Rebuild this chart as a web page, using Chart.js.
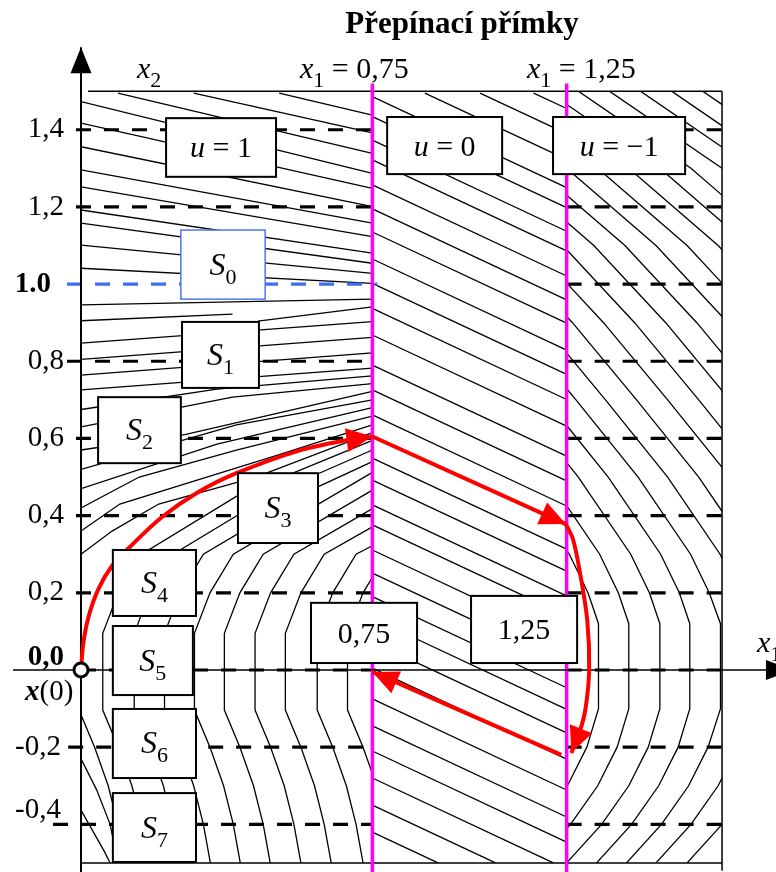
<!DOCTYPE html>
<html>
<head>
<meta charset="utf-8">
<script src="https://cdn.jsdelivr.net/npm/chart.js@4/dist/chart.umd.min.js"></script>
<style>
  html, body { margin: 0; padding: 0; background: #fff; }
</style>
</head>
<body>
<canvas id="phase" width="776" height="872"></canvas>
<script>
const SERIF = '"Liberation Serif", "Times New Roman", serif';

// axis ticks
const yTicks = [1.4, 1.2, 1.0, 0.8, 0.6, 0.4, 0.2, 0, -0.2, -0.4];
const yTickText = ['1,4', '1,2', '1.0', '0,8', '0,6', '0,4', '0,2', '0,0', '-0,2', '-0,4'];

// switching lines x1 = 0.75 and x1 = 1.25
const switchX = [0.75, 1.25];

// dashed guide levels and where each one starts on the left
const dashLevels = [1.4, 1.2, 1.0, 0.8, 0.6, 0.4, 0.2, 0, -0.2, -0.4];
const dashFrom = [-0.013, -0.013, -0.036, -0.036, -0.013, -0.013, -0.013, 0, -0.033, -0.072];

// field lines, u = 1 (left strip)
const fieldU1 = [
  [[0.51, 1.495], [0.75, 1.438]],
  [[0.29, 1.495], [0.75, 1.392]],
  [[0.095, 1.495], [0.75, 1.339]],
  [[0, 1.473], [0.75, 1.287]],
  [[0, 1.417], [0.75, 1.248]],
  [[0, 1.356], [0.75, 1.201]],
  [[0, 1.296], [0.75, 1.158]],
  [[0, 1.252], [0.75, 1.123]],
  [[0, 1.192], [0.75, 1.080]],
  [[0, 1.158], [0.75, 1.054]],
  [[0, 1.101], [0.75, 1.028]],
  [[0, 1.041], [0.75, 1.002]],
  [[0, 0.946], [0.75, 0.961]],
  [[0, 0.905], [0.39, 0.922]],
  [[0.455, 0.904], [0.75, 0.941]],
  [[0, 0.847], [0.75, 0.903]],
  [[0, 0.805], [0.75, 0.862]],
  [[0, 0.764], [0.75, 0.822]],
  [[0, 0.726], [0.75, 0.782]],
  [[0, 0.675], [0.35, 0.728], [0.75, 0.762]],
  [[0, 0.63], [0.39, 0.707], [0.75, 0.742]],
  [[0, 0.57], [0.267, 0.61], [0.75, 0.722]],
  [[0, 0.52], [0.4, 0.635], [0.75, 0.70]],
  [[0, 0.47], [0.35, 0.585], [0.75, 0.68]],
  [[0, 0.42], [0.15, 0.5], [0.4, 0.57], [0.75, 0.658]],
  [[0, 0.36], [0.1, 0.43], [0.5, 0.555], [0.75, 0.635]],
  [[0, 0.3], [0.08, 0.36], [0.2, 0.43], [0.45, 0.5], [0.75, 0.615]],
  [[0.174, -0.5], [0.156, -0.4], [0.131, -0.3], [0.096, -0.2], [0.056, -0.104], [0.056, 0.095], [0.096, 0.2], [0.156, 0.3], [0.4, 0.45], [0.75, 0.595]],
  [[0.255, -0.5], [0.237, -0.4], [0.212, -0.3], [0.177, -0.2], [0.137, -0.104], [0.137, 0.095], [0.177, 0.2], [0.237, 0.3], [0.5, 0.46], [0.75, 0.57]],
  [[0.333, -0.5], [0.315, -0.4], [0.29, -0.3], [0.255, -0.2], [0.215, -0.104], [0.215, 0.095], [0.255, 0.2], [0.315, 0.3], [0.6, 0.47], [0.75, 0.54]],
  [[0.41, -0.5], [0.392, -0.4], [0.367, -0.3], [0.332, -0.2], [0.292, -0.104], [0.292, 0.095], [0.332, 0.2], [0.392, 0.3], [0.75, 0.512]],
  [[0.487, -0.5], [0.469, -0.4], [0.444, -0.3], [0.409, -0.2], [0.369, -0.104], [0.369, 0.095], [0.409, 0.2], [0.469, 0.3], [0.75, 0.466]],
  [[0.566, -0.5], [0.548, -0.4], [0.523, -0.3], [0.488, -0.2], [0.448, -0.104], [0.448, 0.095], [0.488, 0.2], [0.548, 0.3], [0.75, 0.418]],
  [[0.644, -0.5], [0.626, -0.4], [0.601, -0.3], [0.566, -0.2], [0.526, -0.104], [0.526, 0.095], [0.566, 0.2], [0.626, 0.3], [0.75, 0.371]],
  [[0.726, -0.5], [0.708, -0.4], [0.683, -0.3], [0.648, -0.2], [0.608, -0.104], [0.608, 0.095], [0.648, 0.2], [0.708, 0.3], [0.75, 0.322]],
  [[0.804, -0.5], [0.786, -0.4], [0.761, -0.3], [0.726, -0.2], [0.686, -0.104], [0.686, 0.095], [0.726, 0.2], [0.786, 0.3]],
  [[-0.005, -0.104], [0.035, -0.2], [0.07, -0.3], [0.095, -0.4], [0.113, -0.5]],
  [[0, -0.23], [0.04, -0.31], [0.075, -0.4], [0.095, -0.5]],
  [[0, -0.363], [0.06, -0.47], [0.075, -0.5]]
];

// field lines, u = 0 (middle strip)
const fieldU0 = [
  [[1.165, 1.495], [1.25, 1.455]],
  [[1.027, 1.495], [1.25, 1.39]],
  [[0.885, 1.495], [1.25, 1.323]],
  [[0.75, 1.486], [1.25, 1.25]],
  [[0.75, 1.434], [1.25, 1.198]],
  [[0.75, 1.373], [1.25, 1.137]],
  [[0.75, 1.322], [1.25, 1.086]],
  [[0.75, 1.257], [1.25, 1.021]],
  [[0.75, 1.195], [1.25, 0.959]],
  [[0.75, 1.135], [1.25, 0.899]],
  [[0.75, 1.065], [1.25, 0.829]],
  [[0.75, 1.002], [1.25, 0.766]],
  [[0.75, 0.937], [1.25, 0.701]],
  [[0.75, 0.868], [1.25, 0.632]],
  [[0.75, 0.79], [1.25, 0.554]],
  [[0.75, 0.726], [1.25, 0.49]],
  [[0.75, 0.661], [1.25, 0.425]],
  [[0.75, 0.549], [1.25, 0.313]],
  [[0.75, 0.492], [1.25, 0.256]],
  [[0.75, 0.428], [1.25, 0.192]],
  [[0.75, 0.376], [1.25, 0.14]],
  [[0.75, 0.311], [1.25, 0.075]],
  [[0.75, 0.251], [1.25, 0.015]],
  [[0.75, 0.19], [1.25, -0.046]],
  [[0.75, 0.134], [1.25, -0.102]],
  [[0.75, 0.073], [1.25, -0.163]],
  [[0.75, 0.005], [1.25, -0.231]],
  [[0.75, -0.075], [1.25, -0.311]],
  [[0.75, -0.145], [1.25, -0.381]],
  [[0.75, -0.21], [1.25, -0.446]],
  [[0.75, -0.28], [1.216, -0.5]],
  [[0.75, -0.35], [1.067, -0.5]],
  [[0.75, -0.42], [0.919, -0.5]]
];

// field lines, u = -1 (right strip)
const fieldUm1 = [
  [[1.122, 0.5], [1.257, 0.3], [1.305, 0.2], [1.332, 0.12], [1.332, -0.1], [1.302, -0.2], [1.252, -0.3], [1.182, -0.4]],
  [[1.04, 0.7], [1.2, 0.5], [1.335, 0.3], [1.383, 0.2], [1.41, 0.12], [1.41, -0.1], [1.38, -0.2], [1.33, -0.3], [1.26, -0.4], [1.17, -0.5]],
  [[0.955, 0.9], [1.12, 0.7], [1.28, 0.5], [1.415, 0.3], [1.463, 0.2], [1.49, 0.12], [1.49, -0.1], [1.46, -0.2], [1.41, -0.3], [1.34, -0.4], [1.25, -0.5]],
  [[1.032, 0.9], [1.197, 0.7], [1.357, 0.5], [1.492, 0.3], [1.54, 0.2], [1.567, 0.12], [1.567, -0.1], [1.537, -0.2], [1.487, -0.3], [1.417, -0.4], [1.327, -0.5]],
  [[0.924, 1.1], [1.109, 0.9], [1.274, 0.7], [1.434, 0.5], [1.569, 0.3], [1.617, 0.2], [1.646, 0.12], [1.646, -0.1], [1.614, -0.2], [1.564, -0.3], [1.494, -0.4], [1.404, -0.5]],
  [[1.0, 1.1], [1.185, 0.9], [1.35, 0.7], [1.51, 0.5], [1.645, 0.3], [1.693, 0.2], [1.72, 0.12], [1.72, -0.1], [1.69, -0.2], [1.64, -0.3], [1.57, -0.4], [1.48, -0.5]],
  [[0.85, 1.3], [1.08, 1.1], [1.265, 0.9], [1.43, 0.7], [1.59, 0.5], [1.725, 0.3], [1.773, 0.2], [1.8, 0.12], [1.8, -0.1], [1.77, -0.2], [1.72, -0.3], [1.65, -0.4], [1.56, -0.5]],
  [[0.93, 1.3], [1.16, 1.1], [1.345, 0.9], [1.51, 0.7], [1.67, 0.5]],
  [[1.01, 1.3], [1.24, 1.1], [1.425, 0.9], [1.59, 0.7], [1.75, 0.5]],
  [[0.8, 1.5], [1.09, 1.3], [1.32, 1.1], [1.505, 0.9], [1.67, 0.7]],
  [[0.88, 1.5], [1.17, 1.3], [1.40, 1.1], [1.585, 0.9], [1.75, 0.7]],
  [[0.96, 1.5], [1.25, 1.3], [1.48, 1.1], [1.665, 0.9]],
  [[1.04, 1.5], [1.33, 1.3], [1.56, 1.1], [1.745, 0.9]],
  [[1.12, 1.5], [1.41, 1.3], [1.64, 1.1], [1.825, 0.9]],
  [[1.20, 1.5], [1.49, 1.3], [1.72, 1.1]],
  [[1.28, 1.5], [1.57, 1.3], [1.80, 1.1]],
  [[1.36, 1.5], [1.65, 1.3]],
  [[1.44, 1.5], [1.73, 1.3]],
  [[1.52, 1.5], [1.81, 1.3]],
  [[1.60, 1.5], [1.89, 1.3]]
];

// red trajectory from x(0)
const trajArc1 = [[0, 0], [0.006, 0.07], [0.02, 0.14], [0.045, 0.21], [0.08, 0.27], [0.125, 0.318], [0.207, 0.395], [0.3, 0.46], [0.4, 0.51], [0.559, 0.568], [0.68, 0.595], [0.75, 0.605]];
const trajSeg2 = [[0.75, 0.605], [1.248, 0.378]];
const trajArc3 = [[1.248, 0.378], [1.266, 0.34], [1.283, 0.26], [1.303, 0.13], [1.308, 0.0], [1.298, -0.104], [1.282, -0.165], [1.262, -0.215]];
const trajSeg4 = [[1.236, -0.22], [0.75, -0.005]];

// boxes with labels (data coordinates of corners)
const labelBoxes = [
  { x0: 0.219, x1: 0.502, y0: 1.430, y1: 1.278, parts: [['u', 'i'], [' = ', 'r'], ['1', 'r']] },
  { x0: 0.788, x1: 1.084, y0: 1.433, y1: 1.285, parts: [['u', 'i'], [' = ', 'r'], ['0', 'r']] },
  { x0: 1.215, x1: 1.555, y0: 1.433, y1: 1.285, parts: [['u', 'i'], [' = ', 'r'], ['\u22121', 'r']] },
  { x0: 0.257, x1: 0.474, y0: 1.140, y1: 0.961, parts: [['S', 'I'], ['0', 'sub']], stroke: '#4a78f0', lw: 1.5 },
  { x0: 0.260, x1: 0.458, y0: 0.902, y1: 0.731, parts: [['S', 'I'], ['1', 'sub']] },
  { x0: 0.044, x1: 0.257, y0: 0.707, y1: 0.536, parts: [['S', 'I'], ['2', 'sub']] },
  { x0: 0.404, x1: 0.610, y0: 0.510, y1: 0.329, parts: [['S', 'I'], ['3', 'sub']] },
  { x0: 0.082, x1: 0.296, y0: 0.311, y1: 0.140, parts: [['S', 'I'], ['4', 'sub']] },
  { x0: 0.082, x1: 0.288, y0: 0.114, y1: -0.065, parts: [['S', 'I'], ['5', 'sub']] },
  { x0: 0.082, x1: 0.296, y0: -0.101, y1: -0.280, parts: [['S', 'I'], ['6', 'sub']] },
  { x0: 0.082, x1: 0.296, y0: -0.319, y1: -0.4975, parts: [['S', 'I'], ['7', 'sub']] },
  { x0: 0.592, x1: 0.865, y0: 0.174, y1: 0.018, parts: [['0,75', 'r']] },
  { x0: 1.004, x1: 1.277, y0: 0.192, y1: 0.018, parts: [['1,25', 'r']] }
];

const FONTS = {
  r: '30px ' + SERIF,
  i: 'italic 30px ' + SERIF,
  I: 'italic 32px ' + SERIF,
  sub: '22px ' + SERIF,
  b: 'bold 28px ' + SERIF,
  bi: 'bold italic 29px ' + SERIF,
  r28: '29px ' + SERIF
};

function richText(ctx, parts, x, y, align) {
  ctx.textBaseline = 'alphabetic';
  ctx.textAlign = 'left';
  let w = 0;
  parts.forEach(p => { ctx.font = FONTS[p[1]]; w += ctx.measureText(p[0]).width; });
  let cx = align === 'center' ? x - w / 2 : x;
  parts.forEach(p => {
    ctx.font = FONTS[p[1]];
    ctx.fillStyle = '#000';
    ctx.fillText(p[0], cx, y + (p[1] === 'sub' ? 9 : 0));
    cx += ctx.measureText(p[0]).width;
  });
}

function arrowHead(ctx, from, to, len, half, color) {
  const a = Math.atan2(to.y - from.y, to.x - from.x);
  ctx.save();
  ctx.translate(to.x, to.y);
  ctx.rotate(a);
  ctx.beginPath();
  ctx.moveTo(0, 0);
  ctx.lineTo(-len, -half);
  ctx.lineTo(-len, half);
  ctx.closePath();
  ctx.fillStyle = color;
  ctx.fill();
  ctx.restore();
}

const toXY = pts => pts.map(p => ({ x: p[0], y: p[1] }));

const datasets = [];
const REG_Y = [-0.5, 1.5];

function addField(lines, x0, x1) {
  lines.forEach(l => datasets.push({
    data: toXY(l), showLine: true, borderColor: '#000', borderWidth: 1.3,
    clip: false, region: [x0, x1, REG_Y[0], REG_Y[1]], order: 6
  }));
}
addField(fieldU1, 0, switchX[0]);
addField(fieldU0, switchX[0], switchX[1]);
addField(fieldUm1, switchX[1], 1.65);

// dashed guides
dashLevels.forEach((lv, i) => {
  const blue = lv === 1.0;
  datasets.push({
    data: toXY([[dashFrom[i], lv], [blue ? 0.763 : switchX[0], lv]]), showLine: true,
    borderColor: blue ? '#3d6df2' : '#000', borderWidth: 3.2, borderDash: [15, 13],
    clip: false, order: 5
  });
  datasets.push({
    data: toXY([[switchX[1], lv], [1.65, lv]]), showLine: true,
    borderColor: '#000', borderWidth: 3.2, borderDash: [15, 13], clip: false, order: 5
  });
});

// frame
[[[0.018, 1.5], [1.65, 1.5]], [[1.65, 1.5], [1.65, -0.52]], [[0, -0.5], [1.65, -0.5]]].forEach(l => datasets.push({
  data: toXY(l), showLine: true, borderColor: '#000', borderWidth: 1.5, clip: false, order: 4
}));

// switching lines
switchX.forEach(sx => datasets.push({
  data: toXY([[sx, 1.52], [sx, -0.53]]), showLine: true, borderColor: '#ff00ff', borderWidth: 3.5, clip: false, order: 3
}));

// axes with arrows
datasets.push({ data: toXY([[0, -0.53], [0, 1.614]]), showLine: true, borderColor: '#000', borderWidth: 2, clip: false, order: 2, arrow: [26, 10.5, '#000'] });
datasets.push({ data: toXY([[-0.175, 0], [1.83, 0]]), showLine: true, borderColor: '#000', borderWidth: 1.5, clip: false, order: 2, arrow: [26, 10, '#000'] });

// trajectory
[trajArc1, trajSeg2, trajArc3, trajSeg4].forEach((t, i) => datasets.push({
  data: toXY(t), showLine: true, borderColor: '#ff0000', borderWidth: 4, tension: (i % 2 === 0) ? 0.3 : 0,
  clip: false, order: 1, arrow: [26, 12, '#ff0000']
}));

// initial state x(0)
datasets.push({
  data: [{ x: 0, y: 0 }], showLine: false, pointRadius: 7, pointBackgroundColor: '#fff',
  pointBorderColor: '#000', pointBorderWidth: 3, clip: false, order: 0
});

const overlay = {
  id: 'overlay',
  beforeDraw(chart) {
    try {
      const items = chart.scales.y.getLabelItems(chart.chartArea);
      items.forEach(it => {
        if (it._moved) return;
        const t = it.options.translation;
        if (it.label === '0,0') t[1] -= 12;
        if (it.label === '-0,4') { t[1] -= 14; t[0] -= 3; }
        if (it.label === '-0,2') t[0] -= 3;
        if (it.label === '1.0') t[0] -= 13;
        it._moved = true;
      });
    } catch (e) {}
  },
  beforeDatasetDraw(chart, args) {
    const ds = chart.data.datasets[args.index];
    if (!ds.region) return;
    const { x, y } = chart.scales;
    const r = ds.region;
    const ctx = chart.ctx;
    ctx.save();
    ctx.beginPath();
    const px0 = x.getPixelForValue(r[0]), px1 = x.getPixelForValue(r[1]);
    const py0 = y.getPixelForValue(r[3]), py1 = y.getPixelForValue(r[2]);
    ctx.rect(px0, py0, px1 - px0, py1 - py0);
    ctx.clip();
  },
  afterDatasetDraw(chart, args) {
    const ds = chart.data.datasets[args.index];
    if (ds.region) chart.ctx.restore();
  },
  afterDatasetsDraw(chart) {
    const ctx = chart.ctx;
    const { x, y } = chart.scales;
    chart.data.datasets.forEach((ds, i) => {
      if (!ds.arrow) return;
      const pts = chart.getDatasetMeta(i).data;
      const n = pts.length;
      arrowHead(ctx, pts[n - 2], pts[n - 1], ds.arrow[0], ds.arrow[1], ds.arrow[2]);
    });

    labelBoxes.forEach(b => {
      const l = x.getPixelForValue(b.x0), r = x.getPixelForValue(b.x1);
      const t = y.getPixelForValue(b.y0), btm = y.getPixelForValue(b.y1);
      ctx.save();
      ctx.fillStyle = '#fff';
      ctx.fillRect(l, t, r - l, btm - t);
      ctx.lineWidth = b.lw || 2;
      ctx.strokeStyle = b.stroke || '#000';
      ctx.strokeRect(l, t, r - l, btm - t);
      ctx.restore();
      richText(ctx, b.parts, (l + r) / 2, (t + btm) / 2 + 10, 'center');
    });

    // title and axis notes
    ctx.save();
    ctx.font = 'bold 31px ' + SERIF;
    ctx.fillStyle = '#000';
    ctx.textAlign = 'center';
    ctx.textBaseline = 'alphabetic';
    ctx.fillText('Přepínací přímky', 462, 33);
    ctx.restore();
    richText(ctx, [['x', 'i'], ['2', 'sub']], 137, 78, 'left');
    richText(ctx, [['x', 'i'], ['1', 'sub'], [' = 0,75', 'r']], 300, 78, 'left');
    richText(ctx, [['x', 'i'], ['1', 'sub'], [' = 1,25', 'r']], 527, 78, 'left');
    richText(ctx, [['x', 'i'], ['1', 'sub']], 757, 652, 'left');
    richText(ctx, [['x', 'bi'], ['(0)', 'r28']], 25, 700, 'left');
  }
};

new Chart(document.getElementById('phase'), {
  type: 'scatter',
  data: { datasets },
  options: {
    responsive: false,
    animation: false,
    events: [],
    layout: { padding: 0, autoPadding: false },
    elements: { point: { radius: 0, hoverRadius: 0 }, line: { borderCapStyle: 'butt' } },
    plugins: { legend: { display: false }, tooltip: { enabled: false } },
    scales: {
      x: { type: 'linear', display: false, min: 0, max: 1.7889 },
      y: {
        type: 'linear', position: 'left', min: -0.5235, max: 1.7362,
        afterFit: s => { s.width = 81; s.paddingTop = 0; s.paddingBottom = 0; s.paddingLeft = 0; s.paddingRight = 0; },
        afterBuildTicks: s => { s.ticks = yTicks.map(v => ({ value: v })); },
        grid: { display: false, drawTicks: false },
        border: { display: false },
        ticks: {
          autoSkip: false, padding: 17, color: '#000',
          callback: (v, i) => yTickText[i],
          font: c => ({ family: SERIF, size: 29, weight: (c.tick && (c.tick.value === 1 || c.tick.value === 0)) ? 'bold' : 'normal' })
        }
      }
    }
  },
  plugins: [overlay]
});
</script>
</body>
</html>
